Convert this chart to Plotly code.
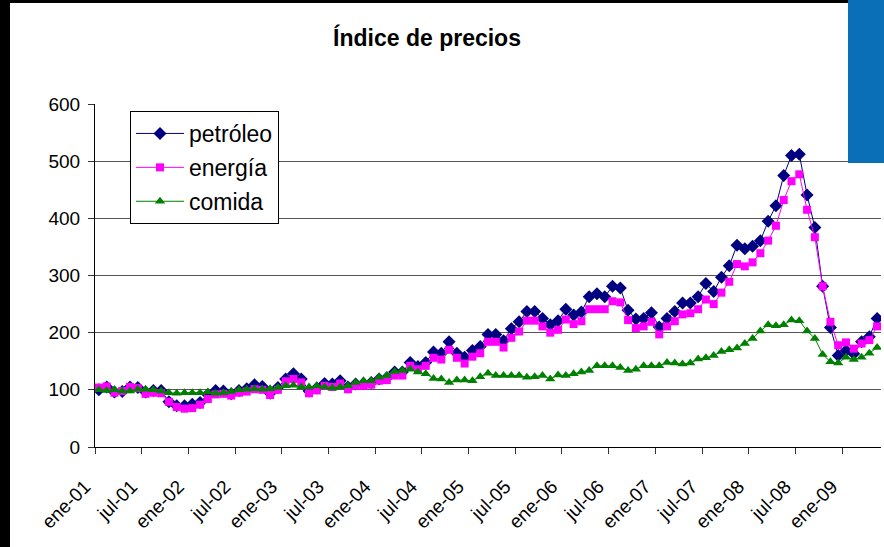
import plotly.graph_objects as go

# ---- data ----
mes = ["ene", "feb", "mar", "abr", "may", "jun", "jul", "ago", "sep", "oct", "nov", "dic"]
anios = ["01", "02", "03", "04", "05", "06", "07", "08", "09"]
meses = [f"{m}-{a}" for a in anios for m in mes][:101]  # ene-01 .. may-09

petroleo = [100, 105, 96, 97, 105, 104, 96, 99, 99, 79, 72, 72,
            75, 78, 92, 99, 98, 93, 99, 102, 109, 106, 94, 104,
            119, 128, 119, 98, 103, 111, 110, 116, 105, 110, 111, 113,
            119, 121, 131, 131, 148, 141, 148, 166, 164, 184, 164, 157,
            169, 176, 197, 197, 186, 207, 219, 237, 237, 225, 214, 221,
            241, 231, 236, 263, 268, 263, 281, 278, 239, 224, 225, 235,
            210, 225, 237, 252, 252, 263, 286, 272, 297, 317, 353, 347,
            351, 361, 395, 422, 475, 510, 512, 441, 384, 281, 209, 160,
            169, 163, 184, 193, 225]
energia = [104, 106, 95, 98, 105, 103, 93, 95, 94, 79, 70, 67,
           68, 74, 84, 92, 93, 90, 95, 97, 101, 100, 91, 100,
           115, 119, 113, 94, 99, 107, 105, 111, 101, 107, 107, 109,
           116, 117, 125, 125, 142, 136, 142, 156, 153, 170, 156, 146,
           158, 164, 184, 184, 174, 191, 202, 221, 221, 211, 200, 205,
           223, 215, 220, 241, 241, 241, 255, 253, 222, 208, 211, 219,
           197, 211, 220, 232, 234, 241, 258, 250, 270, 289, 320, 316,
           323, 339, 361, 387, 432, 465, 477, 415, 367, 281, 219, 178,
           183, 172, 181, 187, 211]
comida = [100, 99, 100, 98, 98, 101, 101, 100, 98, 95, 94, 95,
          95, 95, 96, 94, 95, 97, 100, 101, 102, 101, 102, 104,
          107, 108, 105, 105, 107, 105, 103, 105, 107, 113, 116, 116,
          122, 125, 132, 134, 136, 131, 128, 120, 119, 113, 117, 117,
          116, 123, 129, 125, 125, 125, 125, 122, 123, 125, 119, 126,
          125, 128, 131, 134, 142, 142, 142, 139, 134, 136, 142, 142,
          142, 148, 147, 145, 147, 154, 156, 160, 167, 170, 173, 181,
          190, 203, 214, 212, 214, 222, 221, 203, 190, 162, 149, 147,
          157, 153, 157, 164, 174]

idx = list(range(len(meses)))
tick_pos = [i - 0.5 for i in range(0, len(meses), 6)]
tick_txt = [meses[i] for i in range(0, len(meses), 6)]

W, H = 884, 547
L, R, T, B = 95, 3, 104, 100
pw, ph = W - L - R, H - T - B


def px(x):
    return (x - L) / pw


def py(y):
    return (H - B - y) / ph


FONT = "Liberation Sans, Arial, sans-serif"

fig = go.Figure()
fig.add_trace(go.Scatter(x=idx, y=petroleo, name="petróleo", mode="lines+markers",
                         legendgroup="a",
                         line=dict(color="#000080", width=1),
                         marker=dict(symbol="diamond", size=10, color="#000080")))
fig.add_trace(go.Scatter(x=idx, y=energia, name="energía", mode="lines+markers",
                         legendgroup="b",
                         line=dict(color="#FF00FF", width=1),
                         marker=dict(symbol="square", size=8, color="#FF00FF")))
fig.add_trace(go.Scatter(x=idx, y=comida, name="comida", mode="lines+markers",
                         legendgroup="c",
                         line=dict(color="#008000", width=1),
                         marker=dict(symbol="triangle-up", size=9, color="#008000")))

fig.update_layout(
    width=W, height=H,
    margin=dict(l=L, r=R, t=T, b=B),
    paper_bgcolor="white", plot_bgcolor="white",
    font=dict(family=FONT, color="black", size=18),
    title=dict(text="<b>Índice de precios</b>", x=427 / W, xanchor="center",
               xref="container", y=1 - 38 / H, yanchor="middle", yref="container",
               font=dict(size=23, family=FONT, color="black")),
    showlegend=True,
    legend=dict(x=px(130), y=py(111), xanchor="left", yanchor="top",
                bgcolor="white", bordercolor="black", borderwidth=1,
                font=dict(size=23, family=FONT, color="black"),
                tracegroupgap=1, itemwidth=48),
    xaxis=dict(range=[-0.5, len(meses) - 0.5], tickvals=tick_pos, ticktext=tick_txt,
               tickangle=-45, ticks="outside", ticklen=6, tickcolor="#333",
               showline=True, linecolor="black", linewidth=1, showgrid=False,
               zeroline=False, ticklabelshift=-10, ticklabelstandoff=14,
               tickfont=dict(size=19, family=FONT, color="black")),
    yaxis=dict(range=[0, 600], dtick=100, ticks="outside", ticklen=6, tickcolor="#333",
               showline=True, linecolor="black", linewidth=1,
               showgrid=True, gridcolor="#555", gridwidth=1, zeroline=False,
               ticklabelstandoff=4,
               tickfont=dict(size=19, family=FONT, color="black")),
    shapes=[
        dict(type="rect", xref="paper", yref="paper", x0=px(-5), x1=px(10), y0=py(H + 5), y1=py(-5),
             fillcolor="black", line=dict(width=0), layer="above"),
        dict(type="rect", xref="paper", yref="paper", x0=px(-5), x1=px(W + 5), y0=py(3), y1=py(-5),
             fillcolor="black", line=dict(width=0), layer="above"),
        dict(type="rect", xref="paper", yref="paper", x0=px(848), x1=px(W + 5), y0=py(163), y1=py(-5),
             fillcolor="#0B6FB8", line=dict(width=0), layer="above"),
    ],
)

fig.write_html("out.html", config={"displayModeBar": False},
               post_script="document.body.style.margin='0px';")
